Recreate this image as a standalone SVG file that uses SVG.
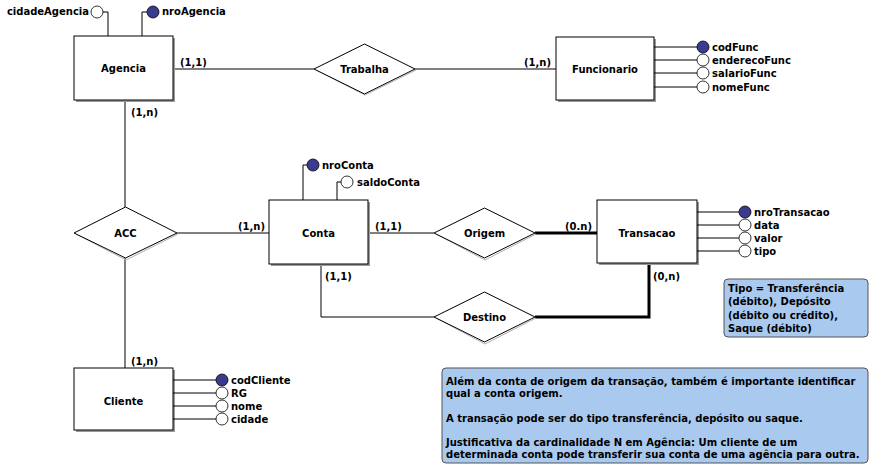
<svg xmlns="http://www.w3.org/2000/svg" width="876" height="475" viewBox="0 0 876 475">
<style>
text{font-family:"DejaVu Sans",Verdana,sans-serif;font-weight:bold;font-size:10px;fill:#000}
.ent{fill:#fff;stroke:#000;stroke-width:1}
.sh{fill:#9a9a9a}
.rel{fill:#fff;stroke:#000;stroke-width:1}
.rsh{fill:none;stroke:#b0b0b0;stroke-width:1}
.ln{fill:none;stroke:#000;stroke-width:1}
.thick{fill:none;stroke:#000;stroke-width:3}
.pk{fill:#3a3a8f;stroke:#000;stroke-width:0.8}
.at{fill:#fff;stroke:#000;stroke-width:0.8}
.note{fill:#a9c9ef;stroke:#555;stroke-width:1}
.c{text-anchor:middle}
</style>
<rect width="876" height="475" fill="#fff"/>
<g id="connectors">
<line class="ln" x1="173" y1="69" x2="314" y2="69"/>
<line class="ln" x1="415" y1="69" x2="556" y2="69"/>
<line class="ln" x1="125" y1="100" x2="125" y2="207"/>
<line class="ln" x1="125" y1="258" x2="125" y2="368"/>
<line class="ln" x1="177" y1="233" x2="269" y2="233"/>
<line class="ln" x1="368" y1="233" x2="434" y2="233"/>
<line class="thick" x1="535" y1="233" x2="597" y2="233"/>
<polyline class="ln" points="321,264 321,317 434,317"/>
<polyline class="thick" points="535,317 649,317 649,263"/>
<text x="180" y="66">(1,1)</text>
<text x="551" y="66" text-anchor="end">(1,n)</text>
<text x="131" y="116">(1,n)</text>
<text x="265" y="230" text-anchor="end">(1,n)</text>
<text x="131" y="365">(1,n)</text>
<text x="375" y="230">(1,1)</text>
<text x="592" y="230" text-anchor="end">(0.n)</text>
<text x="325" y="280">(1,1)</text>
<text x="653" y="280">(0,n)</text>
</g>
<g id="Agencia">
<rect class="sh" x="76" y="38" width="99" height="64"/>
<rect class="ent" x="74" y="36" width="99" height="64"/>
<text class="c" x="123.5" y="72">Agencia</text>
<polyline class="ln" points="108,36 108,12 103,12"/>
<circle class="at" cx="97" cy="12" r="6"/>
<text x="89" y="15" text-anchor="end">cidadeAgencia</text>
<polyline class="ln" points="142,36 142,12 147,12"/>
<circle class="pk" cx="153" cy="12" r="6"/>
<text x="162" y="15">nroAgencia</text>
</g>
<g id="Trabalha">
<polyline class="rsh" points="416,70 365,95 316,70"/>
<polygon class="rel" points="314,69 364.5,44 415,69 364.5,94"/>
<text class="c" x="364.5" y="73">Trabalha</text>
</g>
<g id="Funcionario">
<rect class="sh" x="558" y="39" width="98" height="63"/>
<rect class="ent" x="556" y="37" width="98" height="63"/>
<text class="c" x="605" y="73">Funcionario</text>
<line class="ln" x1="654" y1="47" x2="697" y2="47"/>
<line class="ln" x1="654" y1="60" x2="697" y2="60"/>
<line class="ln" x1="654" y1="73" x2="697" y2="73"/>
<line class="ln" x1="654" y1="87" x2="697" y2="87"/>
<circle class="pk" cx="703" cy="47" r="6"/>
<circle class="at" cx="703" cy="60" r="6"/>
<circle class="at" cx="703" cy="73" r="6"/>
<circle class="at" cx="703" cy="87" r="6"/>
<text x="712" y="51">codFunc</text>
<text x="712" y="64">enderecoFunc</text>
<text x="712" y="77">salarioFunc</text>
<text x="712" y="91">nomeFunc</text>
</g>
<g id="ACC">
<polyline class="rsh" points="178,234 126,260 76,234"/>
<polygon class="rel" points="74,233 125.5,207 177,233 125.5,258"/>
<text class="c" x="125.5" y="237">ACC</text>
</g>
<g id="Conta">
<rect class="sh" x="271" y="202" width="99" height="64"/>
<rect class="ent" x="269" y="200" width="99" height="64"/>
<text class="c" x="318.5" y="237">Conta</text>
<polyline class="ln" points="303,200 303,165 307,165"/>
<circle class="pk" cx="313" cy="165" r="6"/>
<text x="322" y="169">nroConta</text>
<polyline class="ln" points="337,200 337,182 341,182"/>
<circle class="at" cx="347" cy="182" r="6"/>
<text x="357" y="186">saldoConta</text>
</g>
<g id="Origem">
<polyline class="rsh" points="536,234 485,260 436,234"/>
<polygon class="rel" points="434,233 484.5,208 535,233 484.5,258"/>
<text class="c" x="484.5" y="237">Origem</text>
</g>
<g id="Destino">
<polyline class="rsh" points="536,318 485,344 436,318"/>
<polygon class="rel" points="434,317 484.5,292 535,317 484.5,342"/>
<text class="c" x="484.5" y="321">Destino</text>
</g>
<g id="Transacao">
<rect class="sh" x="599" y="202" width="100" height="63"/>
<rect class="ent" x="597" y="200" width="100" height="63"/>
<text class="c" x="647" y="237">Transacao</text>
<line class="ln" x1="697" y1="212" x2="739" y2="212"/>
<line class="ln" x1="697" y1="225" x2="739" y2="225"/>
<line class="ln" x1="697" y1="238" x2="739" y2="238"/>
<line class="ln" x1="697" y1="251" x2="739" y2="251"/>
<circle class="pk" cx="745" cy="212" r="6"/>
<circle class="at" cx="745" cy="225" r="6"/>
<circle class="at" cx="745" cy="238" r="6"/>
<circle class="at" cx="745" cy="251" r="6"/>
<text x="754" y="216">nroTransacao</text>
<text x="754" y="229">data</text>
<text x="754" y="242">valor</text>
<text x="754" y="255">tipo</text>
</g>
<g id="Cliente">
<rect class="sh" x="76" y="370" width="99" height="62"/>
<rect class="ent" x="74" y="368" width="99" height="62"/>
<text class="c" x="123.5" y="405">Cliente</text>
<line class="ln" x1="173" y1="380" x2="216" y2="380"/>
<line class="ln" x1="173" y1="393" x2="216" y2="393"/>
<line class="ln" x1="173" y1="406" x2="216" y2="406"/>
<line class="ln" x1="173" y1="419" x2="216" y2="419"/>
<circle class="pk" cx="222" cy="380" r="6"/>
<circle class="at" cx="222" cy="393" r="6"/>
<circle class="at" cx="222" cy="406" r="6"/>
<circle class="at" cx="222" cy="419" r="6"/>
<text x="231" y="384">codCliente</text>
<text x="231" y="397">RG</text>
<text x="231" y="410">nome</text>
<text x="231" y="423">cidade</text>
</g>
<g id="note-tipo">
<rect class="note" x="724" y="279" width="144" height="58" rx="4"/>
<text x="728" y="292">Tipo = Transferência</text>
<text x="728" y="305">(débito), Depósito</text>
<text x="728" y="319">(débito ou crédito),</text>
<text x="728" y="332">Saque (débito)</text>
</g>
<g id="note-obs">
<rect class="note" x="442" y="368" width="426" height="95" rx="4"/>
<text x="446" y="385">Além da conta de origem da transação, também é importante identificar</text>
<text x="446" y="397">qual a conta origem.</text>
<text x="446" y="422">A transação pode ser do tipo transferência, depósito ou saque.</text>
<text x="446" y="446">Justificativa da cardinalidade N em Agência: Um cliente de um</text>
<text x="446" y="458">determinada conta pode transferir sua conta de uma agência para outra.</text>
</g>
</svg>
